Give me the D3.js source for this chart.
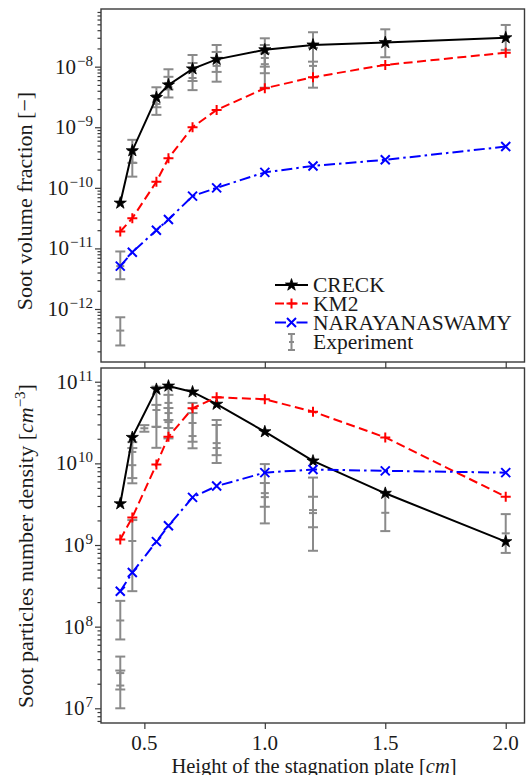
<!DOCTYPE html>
<html><head><meta charset="utf-8">
<script src="https://cdn.jsdelivr.net/npm/d3@7"></script>
<style>
body{margin:0;background:#fff}
svg{display:block}
text{font-family:"Liberation Serif","Times New Roman",serif;fill:#1a1a1a}
</style>
</head><body><svg id="c" width="526" height="775"></svg>
<script>
// ---------------- data ----------------
const heights = [0.4, 0.45, 0.55, 0.6, 0.7, 0.8, 1.0, 1.2, 1.5, 2.0];
const fvCRECK = [5.6e-11, 4.1e-10, 3.1e-9, 5.0e-9, 9.2e-9, 1.32e-8, 1.9e-8, 2.28e-8, 2.5e-8, 3.0e-8];
const fvKM2   = [1.9e-11, 3.15e-11, 1.26e-10, 3.08e-10, 1.0e-9, 1.93e-9, 4.4e-9, 6.7e-9, 1.07e-8, 1.7e-8];
const fvNARAY = [5.1e-12, 8.65e-12, 2.0e-11, 3.0e-11, 7.3e-11, 1.0e-10, 1.8e-10, 2.3e-10, 2.9e-10, 4.8e-10];
const ndCRECK = [3.2e9, 2.08e10, 8.07e10, 8.85e10, 7.5e10, 5.3e10, 2.44e10, 1.07e10, 4.3e9, 1.1e9];
const ndKM2   = [1.17e9, 2.18e9, 9.7e9, 2.12e10, 4.72e10, 6.44e10, 6.1e10, 4.3e10, 2.08e10, 3.9e9];
const ndNARAY = [2.72e8, 4.6e8, 1.1e9, 1.72e9, 3.83e9, 5.27e9, 7.7e9, 8.4e9, 8.1e9, 7.7e9];

// experiments: soot volume fraction
const expFvX  = [0.4, 0.4, 0.45, 0.45, 0.55, 0.55, 0.6, 0.6, 0.7, 0.7, 0.8, 0.8, 1.0, 1.0, 1.0, 1.2, 1.2, 1.5, 2.0];
const expFv   = [5.1e-12, 4.4e-13, 4.2e-10, 2.6e-10, 3.16e-9, 2.42e-9, 5.4e-9, 4.6e-9, 8.8e-9, 6.5e-9, 1.29e-8, 1.03e-8, 1.9e-8, 1.39e-8, 1.1e-8, 2.28e-8, 1.03e-8, 2.49e-8, 3.0e-8];
const expFvLo = [3.1e-12, 2.5e-13, 2.58e-10, 1.53e-10, 2.14e-9, 1.6e-9, 4.2e-9, 3.1e-9, 5.8e-9, 4.1e-9, 8.2e-9, 5.65e-9, 1.0e-8, 7.8e-9, 4.5e-9, 1.21e-8, 4.5e-9, 1.43e-8, 1.89e-8];
const expFvHi = [8.9e-12, 7.3e-13, 6.2e-10, 4.2e-10, 4.57e-9, 3.4e-9, 9.06e-9, 6.8e-9, 1.56e-8, 1.15e-8, 2.28e-8, 1.75e-8, 2.94e-8, 2.28e-8, 1.66e-8, 3.7e-8, 2.04e-8, 4.14e-8, 4.88e-8];

// experiments: particle number density
const expNdX  = [0.4, 0.4, 0.4, 0.45, 0.45, 0.45, 0.5, 0.55, 0.55, 0.6, 0.6, 0.6, 0.7, 0.7, 0.8, 0.8, 1.0, 1.0, 1.2, 1.2, 1.5, 2.0];
const expNd   = [1.19e8, 2.7e7, 1.9e7, 1.38e10, 9.5e9, 1.12e9, 2.69e10, 4.5e10, 2.79e10, 5.5e10, 4.13e10, 3.2e10, 3.12e10, 2.16e10, 1.77e10, 1.54e10, 4.32e9, 3.86e9, 2.68e9, 2.46e9, 2.48e9, 1.39e9];
const expNdLo = [6.97e7, 1.7e7, 1.0e7, 5.7e9, 6.6e9, 2.72e8, 2.44e10, 2.81e10, 1.55e10, 3.4e10, 2.71e10, 2.02e10, 1.84e10, 1.53e10, 1.01e10, 1.26e10, 2.94e9, 1.84e9, 1.65e9, 8.5e8, 1.48e9, 8.0e8];
const expNdHi = [2.07e8, 4.3e7, 2.9e7, 1.82e10, 1.54e10, 2.02e9, 2.94e10, 8.7e10, 5.2e10, 8.4e10, 6.9e10, 4.76e10, 5.5e10, 4.13e10, 3.4e10, 2.95e10, 9.8e9, 5.74e9, 6.7e9, 3.9e9, 4.33e9, 2.39e9];

const xTicks = [0.5, 1.0, 1.5, 2.0];
const xTickLabels = ["0.5", "1.0", "1.5", "2.0"];
const fvExponents = [-12, -11, -10, -9, -8];
const ndExponents = [7, 8, 9, 10, 11];
const legendNames = ["CRECK", "KM2", "NARAYANASWAMY", "Experiment"];

// ---------------- layout ----------------
const svg = d3.select("#c");
const L = 101, R = 524.5;
const top1 = 9, bot1 = 362, top2 = 368, bot2 = 723;
const axisCol = "#3a3a3a";
const expCol = "#8a8a8a";

const x = d3.scaleLinear().domain([0.32, 2.08]).range([L, R + 0.5]);
const y1 = d3.scaleLog().domain([Math.pow(10, -12.875), Math.pow(10, -7.048)]).range([bot1, top1]);
const y2 = d3.scaleLog().domain([Math.pow(10, 6.82), Math.pow(10, 11.168)]).range([bot2, top2]);

function minorTicks(scale) {
  const [a, b] = scale.domain();
  const out = [];
  for (let e = Math.floor(Math.log10(a)); e <= Math.ceil(Math.log10(b)); e++) {
    for (let k = 2; k <= 9; k++) {
      const v = k * Math.pow(10, e);
      if (v >= a && v <= b) out.push(v);
    }
  }
  return out;
}

function drawPanel(y, top, bot, exps, models, showXLabels) {
  const g = svg.append("g");
  const yMajor = g.append("g").attr("transform", `translate(${L},0)`)
    .call(d3.axisLeft(y).tickValues(exps.exponents.map(e => Math.pow(10, e))).tickSize(6).tickFormat(() => ""));
  const yMinor = g.append("g").attr("transform", `translate(${L},0)`)
    .call(d3.axisLeft(y).tickValues(minorTicks(y)).tickSize(3.5).tickFormat(() => ""));
  const xAx = g.append("g").attr("transform", `translate(0,${bot})`)
    .call(d3.axisBottom(x).tickValues(xTicks).tickSize(6).tickFormat(() => ""));
  [yMajor, yMinor, xAx].forEach(a => {
    a.select(".domain").remove();
    a.selectAll("line").attr("stroke", axisCol).attr("stroke-width", 1.2);
  });
  exps.exponents.forEach(e => {
    const t = g.append("text").attr("x", 93).attr("y", y(Math.pow(10, e)) + 7)
      .attr("text-anchor", "end").attr("font-size", 21);
    t.append("tspan").text("10");
    t.append("tspan").attr("dy", -8).attr("font-size", 15).attr("dx", 1)
      .text(e < 0 ? "\u2212" + Math.abs(e) : String(e));
  });
  if (showXLabels) {
    xTicks.forEach((v, i) => {
      g.append("text").attr("x", x(v)).attr("y", 750).attr("text-anchor", "middle")
        .attr("font-size", 21).text(xTickLabels[i]);
    });
  }
  const eg = g.append("g").attr("stroke", expCol).attr("stroke-width", 2).attr("fill", "none");
  exps.xs.forEach((xv, i) => {
    const cx = x(xv), ylo = y(exps.lo[i]), yhi = y(exps.hi[i]), yc = y(exps.v[i]);
    eg.append("line").attr("x1", cx).attr("x2", cx).attr("y1", ylo).attr("y2", yhi);
    eg.append("line").attr("x1", cx - 5).attr("x2", cx + 5).attr("y1", ylo).attr("y2", ylo);
    eg.append("line").attr("x1", cx - 5).attr("x2", cx + 5).attr("y1", yhi).attr("y2", yhi);
    eg.append("line").attr("x1", cx - 4).attr("x2", cx + 4).attr("y1", yc).attr("y2", yc);
  });
  models.forEach(m => {
    const line = d3.line().x((d, i) => x(heights[i])).y(d => y(d));
    g.append("path").datum(m.vals).attr("d", line).attr("fill", "none")
      .attr("stroke", m.color).attr("stroke-width", 2).attr("stroke-dasharray", m.dash || null);
    m.vals.forEach((v, i) => drawMarker(g, m.marker, x(heights[i]), y(v), m.color));
  });
  g.append("rect").attr("x", L).attr("y", top).attr("width", R - L).attr("height", bot - top)
    .attr("fill", "none").attr("stroke", axisCol).attr("stroke-width", 1.4);
  return g;
}

function drawMarker(g, type, cx, cy, color) {
  if (type === "star") {
    g.append("path").attr("d", d3.symbol(d3.symbolStar, 46)()).attr("transform", `translate(${cx},${cy})`)
      .attr("fill", color).attr("stroke", color).attr("stroke-width", 0.8);
  } else if (type === "plus") {
    g.append("path").attr("d", `M${cx - 5},${cy}H${cx + 5}M${cx},${cy - 5}V${cy + 5}`)
      .attr("stroke", color).attr("stroke-width", 2).attr("fill", "none");
  } else if (type === "x") {
    g.append("path").attr("d", `M${cx - 4.5},${cy - 4.5}L${cx + 4.5},${cy + 4.5}M${cx - 4.5},${cy + 4.5}L${cx + 4.5},${cy - 4.5}`)
      .attr("stroke", color).attr("stroke-width", 2).attr("fill", "none");
  }
}

const modelStyles = [
  {color: "#000000", marker: "star", dash: null},
  {color: "#ff0000", marker: "plus", dash: "9,4.5"},
  {color: "#0000ff", marker: "x", dash: "11,4,2.5,4"}
];

drawPanel(y1, top1, bot1,
  {xs: expFvX, v: expFv, lo: expFvLo, hi: expFvHi, exponents: fvExponents},
  [fvCRECK, fvKM2, fvNARAY].map((vals, i) => Object.assign({vals}, modelStyles[i])), false);
drawPanel(y2, top2, bot2,
  {xs: expNdX, v: expNd, lo: expNdLo, hi: expNdHi, exponents: ndExponents},
  [ndCRECK, ndKM2, ndNARAY].map((vals, i) => Object.assign({vals}, modelStyles[i])), true);

// axis labels
svg.append("text").attr("transform", "translate(32,201) rotate(-90)").attr("text-anchor", "middle")
  .attr("font-size", 22).text("Soot volume fraction [\u2212]");
const yl2 = svg.append("text").attr("transform", "translate(33,546) rotate(-90)").attr("text-anchor", "middle")
  .attr("font-size", 22);
yl2.append("tspan").text("Soot particles number density [");
yl2.append("tspan").attr("font-style", "italic").text("cm");
yl2.append("tspan").attr("dy", -8).attr("font-size", 15).text("\u22123");
yl2.append("tspan").attr("dy", 8).text("]");
const xl = svg.append("text").attr("x", 314).attr("y", 772.5).attr("text-anchor", "middle").attr("font-size", 20.5);
xl.append("tspan").text("Height of the stagnation plate [");
xl.append("tspan").attr("font-style", "italic").text("cm");
xl.append("tspan").text("]");

// legend
const lg = svg.append("g");
const rowsY = [285, 303.5, 322.5, 342];
legendNames.forEach((name, i) => {
  const ry = rowsY[i];
  if (i < 3) {
    const s = modelStyles[i];
    lg.append("line").attr("x1", 275).attr("x2", 308).attr("y1", ry).attr("y2", ry)
      .attr("stroke", s.color).attr("stroke-width", 2).attr("stroke-dasharray", s.dash || null);
    drawMarker(lg, s.marker, 291.5, ry, s.color);
  } else {
    const eg = lg.append("g").attr("stroke", expCol).attr("stroke-width", 2);
    eg.append("line").attr("x1", 291.5).attr("x2", 291.5).attr("y1", ry - 8).attr("y2", ry + 8);
    eg.append("line").attr("x1", 288).attr("x2", 295).attr("y1", ry - 8).attr("y2", ry - 8);
    eg.append("line").attr("x1", 288).attr("x2", 295).attr("y1", ry + 8).attr("y2", ry + 8);
    eg.append("line").attr("x1", 289).attr("x2", 294).attr("y1", ry).attr("y2", ry);
  }
  lg.append("text").attr("x", 313).attr("y", ry + 7).attr("font-size", 21.5).text(name);
});
</script></body></html>
